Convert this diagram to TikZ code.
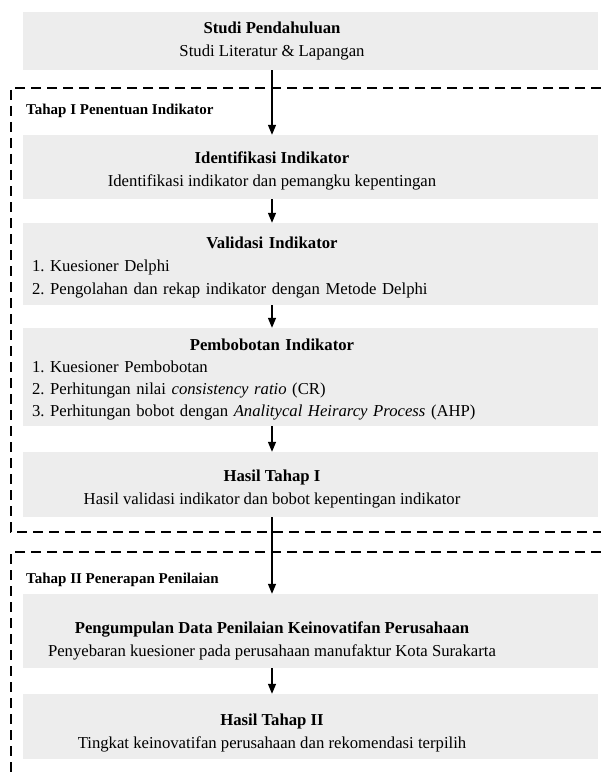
\documentclass[tikz,border=0pt]{standalone}
\usepackage{fontspec}
\setmainfont{Liberation Serif}
\usetikzlibrary{arrows.meta}
\definecolor{boxgray}{HTML}{EDEDED}
\tikzset{
  stepbox/.style={fill=boxgray, minimum width=575pt, inner sep=0pt},
  steptext/.style={font=\fontsize{16.7}{23}\selectfont, align=center, inner sep=0pt},
  steplist/.style={font=\fontsize{16.7}{23}\selectfont\frenchspacing, text width=480pt, align=left, inner sep=0pt},
  stagelabel/.style={font=\fontsize{15}{18}\selectfont\bfseries, anchor=west, inner sep=0pt},
  flow/.style={line width=1.3pt, -{Triangle[width=8pt,length=10pt]}},
  stageframe/.style={line width=1.3pt, dash pattern=on 10pt off 6pt}
}
\begin{document}
\begin{tikzpicture}[x=1pt,y=-1pt]
	\useasboundingbox (0,0) rectangle (601,778);
	\coordinate (axis) at (272,0);
	% dashed stage frames
	\draw[stageframe] (601,88) -- (11,88) -- (11,532) -- (601,532);
	\draw[stageframe] (601,552) -- (11,552) -- (11,778);
	\node[stagelabel] (tahapI) at (26,111) {Tahap I Penentuan Indikator};
	\node[stagelabel] (tahapII) at (26,580) {Tahap II Penerapan Penilaian};
	% boxes
	\node[stepbox, minimum height=58pt] (studi) at (310.5,41) {};
	\node[steptext] (studiT) at (272,41) {\textbf{Studi Pendahuluan}\\Studi Literatur \& Lapangan};
	\node[stepbox, minimum height=64pt] (ident) at (310.5,167) {};
	\node[steptext] (identT) at (272,171) {\textbf{Identifikasi Indikator}\\Identifikasi indikator dan pemangku kepentingan};
	\node[stepbox, minimum height=82pt] (valid) at (310.5,264) {};
	\node[steplist] (validT) at (272,268) {{\centering\bfseries Validasi Indikator\par}1. Kuesioner Delphi\\2. Pengolahan dan rekap indikator dengan Metode Delphi};
	\node[stepbox, minimum height=98pt] (bobot) at (310.5,377) {};
	\node[steplist, font=\fontsize{16.7}{22}\selectfont\frenchspacing] (bobotT) at (272,379.5) {{\centering\bfseries Pembobotan Indikator\par}1. Kuesioner Pembobotan\\2. Perhitungan nilai \textit{consistency ratio} (CR)\\3. Perhitungan bobot dengan \textit{Analitycal Heirarcy Process} (AHP)};
	\node[stepbox, minimum height=65pt] (hasilI) at (310.5,484.5) {};
	\node[steptext] (hasilIT) at (272,489.5) {\textbf{Hasil Tahap I}\\Hasil validasi indikator dan bobot kepentingan indikator};
	\node[stepbox, minimum height=74pt] (kumpul) at (310.5,631) {};
	\node[steptext] (kumpulT) at (272,641) {\textbf{Pengumpulan Data Penilaian Keinovatifan Perusahaan}\\Penyebaran kuesioner pada perusahaan manufaktur Kota Surakarta};
	\node[stepbox, minimum height=65pt] (hasilII) at (310.5,726.5) {};
	\node[steptext] (hasilIIT) at (272,732.5) {\textbf{Hasil Tahap II}\\Tingkat keinovatifan perusahaan dan rekomendasi terpilih};
	% arrows
	\draw[flow] (studi.south -| axis) -- (ident.north -| axis);
	\draw[flow] (ident.south -| axis) -- (valid.north -| axis);
	\draw[flow] (valid.south -| axis) -- (bobot.north -| axis);
	\draw[flow] (bobot.south -| axis) -- (hasilI.north -| axis);
	\draw[flow] (hasilI.south -| axis) -- (kumpul.north -| axis);
	\draw[flow] (kumpul.south -| axis) -- (hasilII.north -| axis);
\end{tikzpicture}
\end{document}
